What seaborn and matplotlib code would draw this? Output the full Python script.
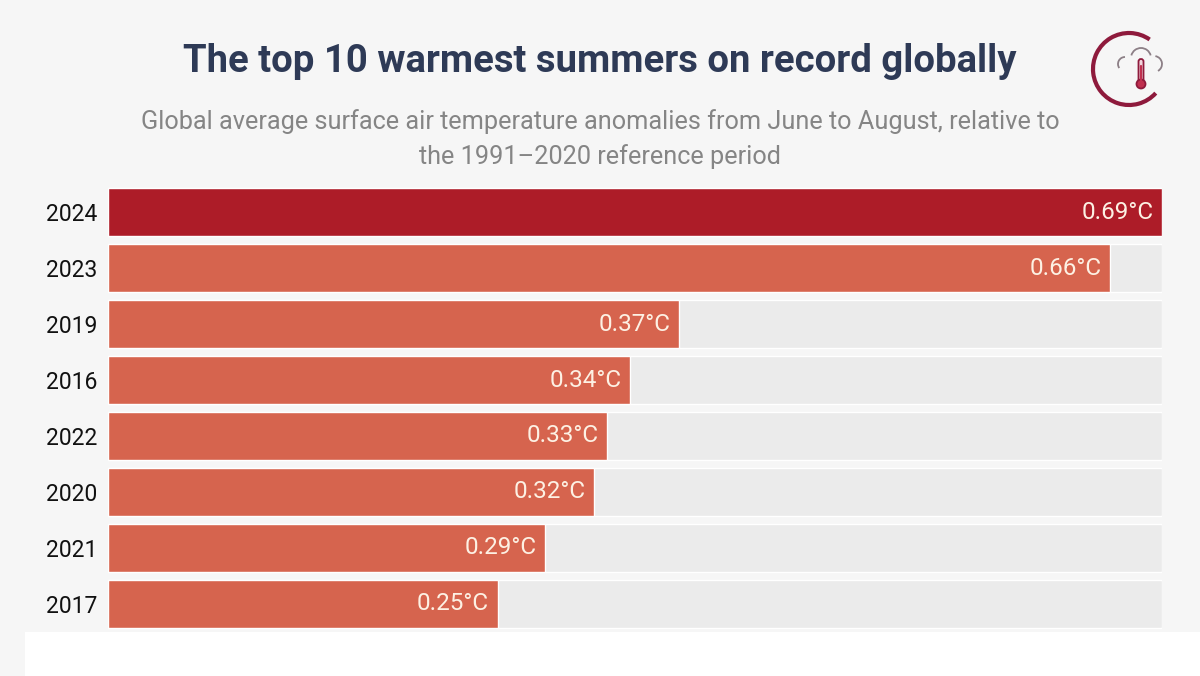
import matplotlib
matplotlib.use("Agg")
import matplotlib.pyplot as plt
import seaborn as sns
import pandas as pd
from matplotlib.patches import Rectangle, Arc, Circle, FancyBboxPatch

# values (bar lengths), labels as printed
years = ["2024", "2023", "2019", "2016", "2022", "2020", "2021", "2017"]
anomaly = [0.69, 0.656, 0.374, 0.342, 0.327, 0.318, 0.286, 0.255]
labels = ["0.69°C", "0.66°C", "0.37°C", "0.34°C", "0.33°C", "0.32°C", "0.29°C", "0.25°C"]

bg = "#f6f6f6"
sns.set_style("white")
plt.rcParams["font.family"] = ["Roboto", "DejaVu Sans"]

df = pd.DataFrame({"year": years, "anomaly": anomaly, "track": max(anomaly)})
palette = ["#ad1c28"] + ["#d6644e"] * (len(years) - 1)

fig = plt.figure(figsize=(12, 6.76), dpi=100, facecolor=bg)
ax = fig.add_axes([0.09, 0.0651, 0.8783, 0.6627])
ax.set_facecolor(bg)

# grey track behind every bar
sns.barplot(data=df, y="year", x="track", color="#ebebeb", width=0.857,
            saturation=1, ax=ax)
sns.barplot(data=df, y="year", x="anomaly", hue="year", palette=palette,
            width=0.857, saturation=1, legend=False, ax=ax)

for i, (v, lab) in enumerate(zip(anomaly, labels)):
    ax.text(v - 0.0055, i, lab, ha="right", va="center", fontsize=17.5,
            color="#fdf1e4")

ax.set_xlim(0, max(anomaly))
ax.set_ylim(len(years) - 0.5, -0.5)
ax.set_xlabel("")
ax.set_ylabel("")
ax.set_xticks([])
ax.tick_params(axis="y", length=0, pad=8, labelsize=16.5, labelcolor="#111111")
sns.despine(ax=ax, left=True, bottom=True)

fig.text(0.5, 0.909, "The top 10 warmest summers on record globally",
         ha="center", va="center", fontsize=27.5, fontweight="bold", color="#2e3a56")
fig.text(0.5, 0.795, "Global average surface air temperature anomalies from June to August, relative to\nthe 1991\u20132020 reference period",
         ha="center", va="center", fontsize=18.2, color="#858585", linespacing=1.5)

# white strip at the bottom
fig.patches.append(Rectangle((0.021, 0), 0.979, 0.065, transform=fig.transFigure,
                             facecolor="white", edgecolor="none", zorder=0))

# small logo, top right (local pixel coordinates)
lg = fig.add_axes([1090 / 1200, 1 - 110 / 676, 80 / 1200, 80 / 676])
lg.set_xlim(0, 80)
lg.set_ylim(0, 80)
lg.axis("off")
maroon = "#8e1a3c"
lg.add_patch(Arc((39, 41), 72, 72, theta1=55, theta2=318, color=maroon, lw=3))
cloud = "#8c7f86"
lg.add_patch(Arc((35, 46), 14, 14, theta1=90, theta2=215, color=cloud, lw=1.3))
lg.add_patch(Arc((51, 52), 20, 20, theta1=15, theta2=165, color=cloud, lw=1.3))
lg.add_patch(Arc((64, 46), 16, 16, theta1=-60, theta2=80, color=cloud, lw=1.3))
lg.add_patch(FancyBboxPatch((48.5, 27), 5, 24, boxstyle="round,pad=0,rounding_size=2.5",
                            facecolor="#f3d6de", edgecolor=maroon, lw=1.3))
lg.add_patch(Circle((51, 26), 4.5, facecolor="#c0304f", edgecolor=maroon, lw=1.3))
lg.plot([51, 51], [27, 44], color="#c0304f", lw=1.6)

fig.savefig("out.png", dpi=100, facecolor=bg)
